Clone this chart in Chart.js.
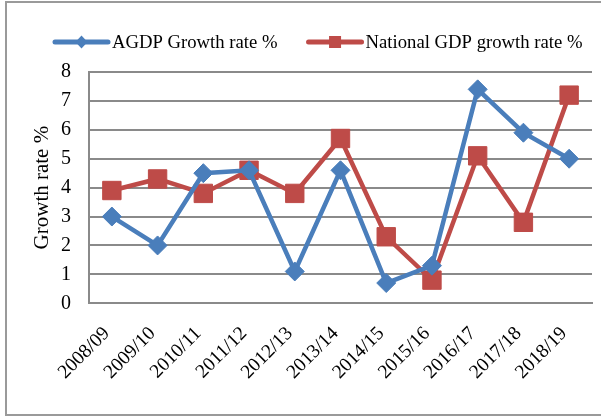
<!DOCTYPE html>
<html>
<head>
<meta charset="utf-8">
<script src="https://cdn.jsdelivr.net/npm/chart.js@4.4.0/dist/chart.umd.min.js"></script>
<style>
html,body{margin:0;padding:0;background:#fff;}
#wrap{position:absolute;left:0;top:0;width:601px;height:417px;}
#frame{position:absolute;left:5px;top:1px;width:600px;height:415px;border:2px solid #9a9a9a;border-right:none;box-sizing:border-box;}
canvas{position:absolute;left:0;top:0;}
</style>
</head>
<body>
<div id="wrap">
<div id="frame"></div>
<canvas id="c" width="601" height="417"></canvas>
</div>
<script>
const categories = ["2008/09","2009/10","2010/11","2011/12","2012/13","2013/14","2014/15","2015/16","2016/17","2017/18","2018/19"];
const agdpGrowth = [3.0, 2.0, 4.5, 4.6, 1.1, 4.6, 0.7, 1.3, 7.4, 5.9, 5.0];
const nationalGrowth = [3.9, 4.3, 3.8, 4.6, 3.8, 5.7, 2.3, 0.8, 5.1, 2.8, 7.2];
const seriesNames = ["AGDP Growth rate %", "National GDP growth rate %"];
const yTicks = [0,1,2,3,4,5,6,7,8];

const BLUE = '#4a7ebb';
const RED = '#be4b48';
const FONT = "'Liberation Serif', 'Times New Roman', serif";

// Legend drawn as line + marker sample followed by text (Excel style)
const lineLegend = {
  id: 'lineLegend',
  afterDraw(chart) {
    const ctx = chart.ctx;
    const y = 42;
    let x = 53;
    ctx.save();
    ctx.font = "18.7px " + FONT;
    ctx.textBaseline = 'middle';
    ctx.textAlign = 'left';
    chart.data.datasets.forEach((ds, i) => {
      const w = 57;
      ctx.strokeStyle = ds.borderColor;
      ctx.lineWidth = 5;
      ctx.lineCap = 'round';
      ctx.beginPath(); ctx.moveTo(x + 2, y); ctx.lineTo(x + w - 2, y); ctx.stroke();
      ctx.fillStyle = ds.borderColor;
      const cx = x + w / 2;
      if (ds.pointStyle === 'rectRot') {
        ctx.beginPath(); ctx.moveTo(cx, y - 6.5); ctx.lineTo(cx + 6, y); ctx.lineTo(cx, y + 6.5); ctx.lineTo(cx - 6, y); ctx.closePath(); ctx.fill();
      } else {
        ctx.fillRect(cx - 6, y - 6, 12, 12);
      }
      ctx.fillStyle = '#000';
      ctx.fillText(ds.label, x + w + 2, y + 1);
      x += w + 2 + ctx.measureText(ds.label).width + 29;
    });
    ctx.restore();
  }
};

new Chart(document.getElementById('c'), {
  type: 'line',
  data: {
    labels: categories,
    datasets: [
      {label: seriesNames[0], data: agdpGrowth, borderColor: BLUE, backgroundColor: BLUE, borderWidth: 4.5,
       pointStyle: 'rectRot', pointRadius: 9.5, pointHoverRadius: 9.5, pointBorderWidth: 1, tension: 0},
      {label: seriesNames[1], data: nationalGrowth, borderColor: RED, backgroundColor: RED, borderWidth: 4.5,
       pointStyle: 'rect', pointRadius: 13, pointHoverRadius: 13, pointBorderWidth: 1, tension: 0}
    ]
  },
  plugins: [lineLegend],
  options: {
    responsive: false,
    animation: false,
    layout: {autoPadding: false, padding: {left: 26, right: 9, top: 72, bottom: 14}},
    plugins: {
      tooltip: {enabled: false},
      legend: {display: false}
    },
    scales: {
      x: {
        offset: true,
        grid: {display: false, drawTicks: false},
        border: {display: true, color: '#8a8a8a', width: 2},
        ticks: {color: '#000', font: {family: FONT, size: 19.5}, minRotation: 45, maxRotation: 45, padding: 19, labelOffset: -5, autoSkip: false},
        afterFit: (s) => { s.paddingLeft = 0; s.paddingRight = 0; }
      },
      y: {
        min: 0, max: 8,
        afterBuildTicks: (s) => { s.ticks = yTicks.map(v => ({value: v})); },
        afterFit: (s) => { s.width = 63; },
        grid: {color: '#8a8a8a', lineWidth: 2, drawTicks: false},
        border: {display: true, color: '#8a8a8a', width: 2},
        ticks: {color: '#000', font: {family: FONT, size: 20}, padding: 18},
        title: {display: true, text: 'Growth rate %', color: '#000', font: {family: FONT, size: 21}, padding: {top: 4, bottom: 6}}
      }
    }
  }
});
</script>
</body>
</html>
